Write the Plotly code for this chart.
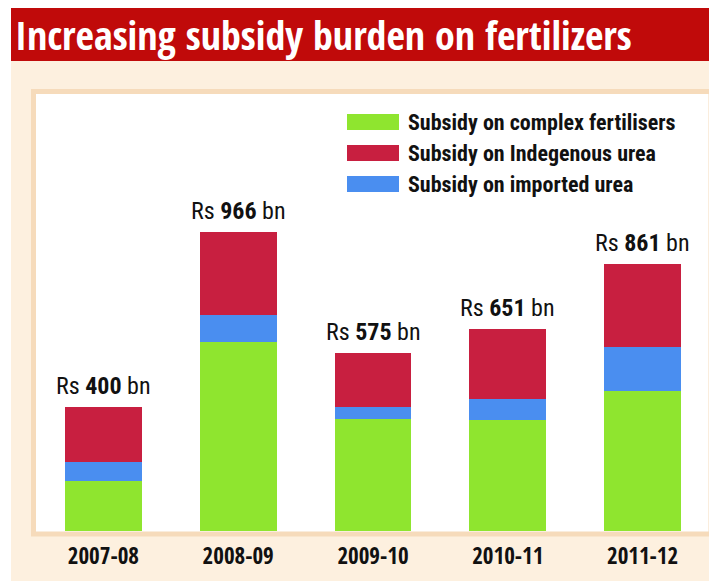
import plotly.graph_objects as go

# ---- data ----
years = ["2007-08", "2008-09", "2009-10", "2010-11", "2011-12"]
complex_fert = [161, 609, 363, 358, 452]
imported_urea = [61, 90, 39, 67, 142]
indigenous_urea = [178, 267, 173, 226, 267]
totals = [400, 966, 575, 651, 861]

series_names = ["Subsidy on complex fertilisers",
                "Subsidy on Indegenous urea",
                "Subsidy on imported urea"]
colors = {"complex": "#8fe52f", "indigenous": "#c81f40", "imported": "#4a8ef0"}

# page body has an 8px margin, so figure is placed at (8, 8)
OFF = 8
W, H = 717 - OFF, 581 - OFF
L, R, T, B = 36 - OFF, 7, 95 - OFF, 50
PW, PH = W - L - R, H - T - B
COND = "Roboto Condensed, Open Sans Condensed, sans-serif"
HEAVY = "Open Sans Condensed, Roboto Condensed, sans-serif"


def px(x):
    return (x - OFF - L) / PW


def py(y):
    return (H - B - (y - OFF)) / PH


fig = go.Figure()
fig.add_trace(go.Bar(x=years, y=complex_fert, name=series_names[0],
                     marker=dict(color=colors["complex"], line=dict(width=0))))
fig.add_trace(go.Bar(x=years, y=imported_urea, name=series_names[2],
                     marker=dict(color=colors["imported"], line=dict(width=0))))
fig.add_trace(go.Bar(x=years, y=indigenous_urea, name=series_names[1],
                     marker=dict(color=colors["indigenous"], line=dict(width=0))))

shapes = []
# cream background
shapes.append(dict(type="rect", xref="paper", yref="paper", x0=px(11), x1=px(720),
                   y0=py(61), y1=py(585), fillcolor="#fdf0df", line=dict(width=0), layer="below"))
# title band
shapes.append(dict(type="rect", xref="paper", yref="paper", x0=px(11), x1=px(720),
                   y0=py(61), y1=py(6), fillcolor="#c00a0a", line=dict(width=0), layer="below"))
# frame
shapes.append(dict(type="rect", xref="paper", yref="paper", x0=px(33.5), x1=px(711),
                   y0=py(534), y1=py(91.5), fillcolor="white",
                   line=dict(color="#f6dbbb", width=5), layer="below"))

annotations = []
annotations.append(dict(xref="paper", yref="paper", x=px(13), y=py(35), xanchor="left",
                        yanchor="middle", showarrow=False,
                        text="<b>Increasing subsidy burden on fertilizers</b>",
                        font=dict(family=HEAVY, size=40, color="white")))

# legend (custom, large swatches)
legend_items = [(series_names[0], colors["complex"]),
                (series_names[1], colors["indigenous"]),
                (series_names[2], colors["imported"])]
for i, (name, col) in enumerate(legend_items):
    cy = 122 + i * 31
    shapes.append(dict(type="rect", xref="paper", yref="paper", x0=px(347), x1=px(399),
                       y0=py(cy + 8), y1=py(cy - 8), fillcolor=col, line=dict(width=0)))
    annotations.append(dict(xref="paper", yref="paper", x=px(406), y=py(cy), xanchor="left",
                            yanchor="middle", showarrow=False, text="<b>%s</b>" % name,
                            font=dict(family=COND, size=22, color="#111")))

# total labels
for yr, tot in zip(years, totals):
    annotations.append(dict(x=yr, y=tot, xref="x", yref="y", yanchor="bottom", yshift=5,
                            showarrow=False, text="Rs <b>%d</b> bn" % tot,
                            font=dict(family=COND, size=24, color="#111")))

fig.update_layout(
    width=W, height=H, margin=dict(l=L, r=R, t=T, b=B),
    paper_bgcolor="white", plot_bgcolor="white",
    barmode="stack", bargap=0.43, showlegend=False,
    shapes=shapes, annotations=annotations,
    xaxis=dict(type="category", showgrid=False, zeroline=False, showline=False, ticks="",
               tickfont=dict(family=HEAVY, size=23, color="#111", weight="bold"),
               ticklabelstandoff=9, range=[-0.5, 4.5]),
    yaxis=dict(range=[0, 1408], showgrid=False, zeroline=False, showline=False,
               showticklabels=False, ticks=""),
)
fig.write_html("out.html")
